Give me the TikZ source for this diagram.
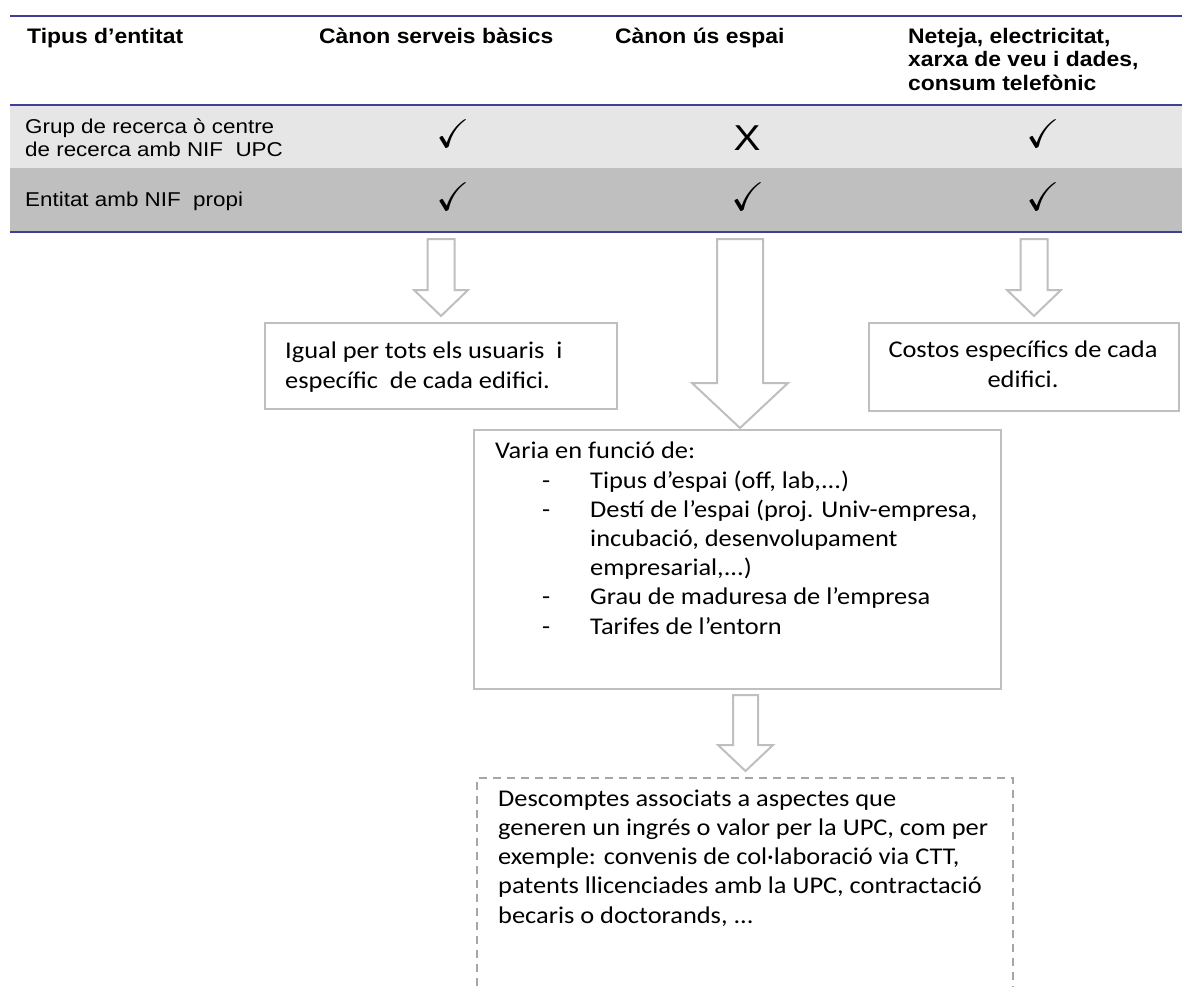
\documentclass[tikz,border=0pt]{standalone}
\usepackage{fontspec}
\usepackage{amssymb}
\setmainfont{Carlito}[FakeStretch=1.1]
\newfontfamily\headfont{Liberation Sans}[FakeStretch=1.09]
\newfontfamily\cellfont{Liberation Sans}[FakeStretch=1.12]
\usetikzlibrary{positioning}

\definecolor{tabblue}{HTML}{3F3F9A}
\definecolor{rowlight}{HTML}{E6E6E6}
\definecolor{rowdark}{HTML}{BFBFBF}
\definecolor{boxgray}{HTML}{BFBFBF}
\definecolor{dashgray}{HTML}{A6A6A6}

\tikzset{
  head/.style={anchor=base west, inner sep=0pt, align=left, font=\headfont\bfseries\fontsize{21}{23.5}\selectfont},
  cell/.style={anchor=base west, inner sep=0pt, align=left, font=\cellfont\fontsize{20}{23}\selectfont},
  chk/.style={inner sep=0pt, font=\fontsize{40}{40}\selectfont},
  cross/.style={inner sep=0pt, font=\cellfont\fontsize{36}{36}\selectfont},
  box/.style={draw=boxgray, line width=2pt, inner sep=0pt, anchor=north west},
  dashbox/.style={draw=dashgray, line width=1.5pt, dash pattern=on 8pt off 6pt, inner sep=0pt, anchor=north west},
  txt/.style={anchor=base west, inner sep=0pt, align=left, font=\fontsize{24}{29.2}\selectfont},
  barrow/.style={draw=boxgray, line width=2pt, fill=white, line join=miter},
  tabline/.style={draw=tabblue, line width=2.5pt}
}

\begin{document}
\begin{tikzpicture}[x=1pt,y=-1pt]
 \useasboundingbox (0,0) rectangle (1182,986);
 \clip (0,0) rectangle (1182,986);

 % table
 \fill[rowlight] (10,105) rectangle (1182,168);
 \fill[rowdark] (10,168) rectangle (1182,232);
 \draw[tabline] (10,16) -- (1182,16);
 \draw[tabline, line width=2pt] (10,105) -- (1182,105);
 \draw[tabline] (10,232) -- (1182,232);

 \node[head] (h1) at (27,43) {Tipus d’entitat};
 \node[head] (h2) at (319,43) {Cànon serveis bàsics};
 \node[head] (h3) at (615,43) {Cànon ús espai};
 \node[head] (h4) at (908,90) {Neteja, electricitat,\\xarxa de veu i dades,\\consum telefònic};

 \node[cell] (r1) at (25,156) {Grup de recerca ò centre\\de recerca amb NIF\ \ UPC};
 \node[cell] (r2) at (25,206) {Entitat amb NIF\ \ propi};

 \node[chk] (c11) at (453,134) {$\checkmark$};
 \node[cross] (c12) at (747,138) {X};
 \node[chk] (c13) at (1043,134) {$\checkmark$};
 \node[chk] (c21) at (453,197) {$\checkmark$};
 \node[chk] (c22) at (748,197) {$\checkmark$};
 \node[chk] (c23) at (1043,197) {$\checkmark$};

 % boxes
 \node[box, minimum width=352pt, minimum height=86pt] (basic) at (264,322) {};
 \node[box, minimum width=310pt, minimum height=88pt] (costs) at (868,322) {};
 \node[box, minimum width=527pt, minimum height=259pt] (space) at (473,429) {};
 \node[dashbox, minimum width=536pt, minimum height=240pt] (disc) at (476,777) {};

 \node[txt] (basictxt) at (285,388) {Igual per tots els usuaris\ \ i\\específic\ \ de cada edifici.};
 \node[txt, anchor=base, align=center] (coststxt) at (1023,387) {Costos específics de cada\\edifici.};
 \node[txt] (spacetxt) at (495,634) {Varia en funció de:\\
   \hspace*{47pt}\makebox[48pt][l]{-}Tipus d’espai (off, lab,...)\\
   \hspace*{47pt}\makebox[48pt][l]{-}Destí de l’espai (proj. Univ-empresa,\\
   \hspace*{95pt}incubació, desenvolupament\\
   \hspace*{95pt}empresarial,...)\\
   \hspace*{47pt}\makebox[48pt][l]{-}Grau de maduresa de l’empresa\\
   \hspace*{47pt}\makebox[48pt][l]{-}Tarifes de l’entorn};
 \node[txt] (disctxt) at (498,923) {Descomptes associats a aspectes que\\generen un ingrés o valor per la UPC, com per\\exemple: convenis de col·laboració via CTT,\\patents llicenciades amb la UPC, contractació\\becaris o doctorands, ...};

 % block arrows
 \draw[barrow] (427.5,239) -- (454.5,239) -- (454.5,290) -- (468,290) -- (441,316) -- (414,290) -- (427.5,290) -- cycle;
 \draw[barrow] (717,239) -- (763,239) -- (763,383) -- (788,383) -- (740,428) -- (692,383) -- (717,383) -- cycle;
 \draw[barrow] (1020.5,239) -- (1047.5,239) -- (1047.5,290) -- (1061,290) -- (1034,316) -- (1007,290) -- (1020.5,290) -- cycle;
 \draw[barrow] (733,695) -- (758,695) -- (758,745) -- (773,745) -- (745.5,771) -- (718,745) -- (733,745) -- cycle;
\end{tikzpicture}
\end{document}
